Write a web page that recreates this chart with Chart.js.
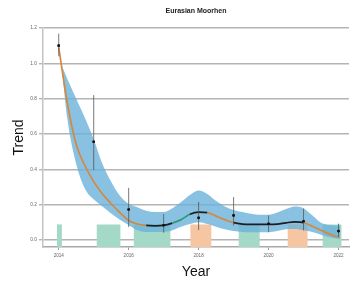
<!DOCTYPE html>
<html>
<head>
<meta charset="utf-8">
<script src="https://cdn.jsdelivr.net/npm/chart.js@4/dist/chart.umd.min.js"></script>
<style>
html,body{margin:0;padding:0;background:#fff;}
#wrap{width:353px;height:284px;position:relative;}
</style>
</head>
<body>
<div id="wrap"><canvas id="c" width="353" height="284"></canvas></div>
<script>
// ---- data ----
const chartTitle = 'Eurasian Moorhen';
const xTickYears = [2014, 2016, 2018, 2020, 2022];
const yTickValues = [0.0, 0.2, 0.4, 0.6, 0.8, 1.0, 1.2];

const pointYears = [2014, 2015, 2016, 2017, 2018, 2019, 2020, 2021, 2022];
const pointValues = [1.10, 0.556, 0.172, 0.083, 0.125, 0.139, 0.092, 0.106, 0.050];
const errLow  = [1.04, 0.395, 0.073, 0.041, 0.056, 0.082, 0.044, 0.054, 0.016];
const errHigh = [1.168, 0.82, 0.295, 0.146, 0.215, 0.243, 0.139, 0.177, 0.092];

const trendYears = [2014, 2014.25, 2014.5, 2014.75, 2015, 2015.25, 2015.5, 2015.75,
  2016, 2016.25, 2016.5, 2016.75, 2017, 2017.25, 2017.5, 2017.75,
  2018, 2018.25, 2018.5, 2018.75, 2019, 2019.25, 2019.5, 2019.75,
  2020, 2020.25, 2020.5, 2020.75, 2021, 2021.25, 2021.5, 2021.75, 2022];
const trendValues = [1.09, 0.77, 0.54, 0.42, 0.33, 0.26, 0.205, 0.155,
  0.11, 0.09, 0.082, 0.08, 0.082, 0.095, 0.115, 0.145,
  0.158, 0.155, 0.135, 0.115, 0.098, 0.09, 0.088, 0.088,
  0.088, 0.09, 0.097, 0.102, 0.098, 0.078, 0.055, 0.033, 0.015];

const bandYears = [2014.1, 2014.25, 2014.5, 2014.75, 2015, 2015.25, 2015.5, 2015.75,
  2016, 2016.25, 2016.5, 2016.75, 2017, 2017.25, 2017.5, 2017.75,
  2018, 2018.25, 2018.5, 2018.75, 2019, 2019.25, 2019.5, 2019.75,
  2020, 2020.25, 2020.5, 2020.75, 2021, 2021.25, 2021.5, 2021.75, 2022.05];
const bandUpper = [0.98, 0.91, 0.80, 0.69, 0.57, 0.43, 0.33, 0.25,
  0.205, 0.185, 0.165, 0.158, 0.158, 0.18, 0.215, 0.255,
  0.28, 0.26, 0.22, 0.19, 0.17, 0.158, 0.148, 0.142,
  0.142, 0.155, 0.175, 0.19, 0.18, 0.14, 0.098, 0.085, 0.08];
const bandLower = [0.95, 0.68, 0.43, 0.29, 0.23, 0.19, 0.15, 0.115,
  0.085, 0.055, 0.045, 0.045, 0.045, 0.055, 0.075, 0.09,
  0.10, 0.09, 0.075, 0.06, 0.05, 0.045, 0.044, 0.044,
  0.044, 0.05, 0.06, 0.062, 0.055, 0.045, 0.03, 0.015, 0.005];

// trend significance periods
const sigFrom = [2014, 2016.4, 2017.15, 2017.85, 2018.35, 2019.1, 2021.0];
const sigKind = ['down', 'flat', 'up', 'flat', 'down', 'flat', 'down'];

// coloured period bars
const barStart = [2013.95, 2015.08, 2016.14, 2017.76, 2019.14, 2020.54, 2021.54];
const barEnd   = [2014.09, 2015.77, 2017.20, 2018.37, 2019.75, 2021.12, 2022.09];
const barKind  = ['green', 'green', 'green', 'orange', 'green', 'orange', 'green'];
const barHeight = 0.088;

// ---- styles ----
const sigColor = {down: '#d4883e', flat: '#1e1e1e', up: '#2f9a78'};
const barColor = {green: '#a3d9c6', orange: '#f6c5a2'};
const bandColor = 'rgba(108,178,219,0.80)';

const datasets = [];
barStart.forEach((s, i) => {
  datasets.push({
    type: 'line',
    data: [{x: s, y: barHeight}, {x: barEnd[i], y: barHeight}],
    borderWidth: 0, pointRadius: 0, fill: 'start',
    backgroundColor: barColor[barKind[i]], borderColor: 'rgba(0,0,0,0)',
    order: 10
  });
});
datasets.push({
  type: 'line',
  data: bandYears.map((x, i) => ({x, y: bandUpper[i]})),
  borderWidth: 0, pointRadius: 0, fill: '+1',
  cubicInterpolationMode: 'monotone',
  backgroundColor: bandColor, borderColor: 'rgba(0,0,0,0)', order: 6
});
datasets.push({
  type: 'line',
  data: bandYears.map((x, i) => ({x, y: bandLower[i]})),
  borderWidth: 0, pointRadius: 0, fill: false,
  cubicInterpolationMode: 'monotone',
  borderColor: 'rgba(0,0,0,0)', order: 7
});
function kindAt(x) {
  let k = sigKind[0];
  for (let i = 0; i < sigFrom.length; i++) if (x >= sigFrom[i]) k = sigKind[i];
  return k;
}
datasets.push({
  type: 'line',
  data: trendYears.map((x, i) => ({x, y: trendValues[i]})),
  borderWidth: 1.7, pointRadius: 0, fill: false,
  cubicInterpolationMode: 'monotone',
  borderColor: sigColor.down,
  segment: {
    borderColor: ctx => sigColor[kindAt((ctx.p0.parsed.x + ctx.p1.parsed.x) / 2)]
  },
  order: 3
});
datasets.push({
  type: 'scatter',
  data: pointYears.map((x, i) => ({x, y: pointValues[i]})),
  pointRadius: 1.3, pointBackgroundColor: '#111', pointBorderWidth: 0,
  showLine: false, order: 1
});

const errorBars = {
  id: 'errorBars',
  afterDatasetsDraw(chart) {
    const {ctx, scales: {x, y}} = chart;
    ctx.save();
    ctx.strokeStyle = '#555';
    ctx.lineWidth = 0.8;
    pointYears.forEach((yr, i) => {
      const px = x.getPixelForValue(yr);
      ctx.beginPath();
      ctx.moveTo(px, y.getPixelForValue(errLow[i]));
      ctx.lineTo(px, y.getPixelForValue(errHigh[i]));
      ctx.stroke();
    });
    ctx.restore();
    const meta = chart.getDatasetMeta(chart.data.datasets.length - 1);
    meta.controller.draw();
  }
};

new Chart(document.getElementById('c'), {
  type: 'line',
  data: {datasets},
  plugins: [errorBars],
  options: {
    responsive: false,
    animation: false,
    layout: {padding: 0},
    plugins: {
      legend: {display: false},
      tooltip: {enabled: false},
      title: {
        display: true, text: chartTitle, fullSize: false,
        color: '#222',
        font: {family: 'Liberation Sans, Arial, sans-serif', size: 7, weight: 'bold', lineHeight: 1.2},
        padding: {top: 7, bottom: 12.6}
      }
    },
    scales: {
      x: {
        type: 'linear', min: 2013.55, max: 2022.3,
        afterFit: s => { s.height = 37; },
        afterBuildTicks: s => { s.ticks = xTickYears.map(v => ({value: v})); },
        grid: {drawOnChartArea: false, drawTicks: true, tickLength: 3, color: '#9a9a9a', lineWidth: 1},
        border: {display: true, color: '#a8a8a8', width: 1.5},
        ticks: {
          color: '#666', padding: 3, maxRotation: 0, autoSkip: false,
          font: {family: 'Liberation Sans, Arial, sans-serif', size: 4.6},
          callback: v => String(v)
        },
        title: {
          display: true, text: 'Year', color: '#111',
          font: {family: 'Liberation Sans, Arial, sans-serif', size: 14},
          padding: {top: 2, bottom: 3}
        }
      },
      y: {
        type: 'linear', min: -0.04, max: 1.2,
        afterFit: s => { s.width = 43; },
        afterBuildTicks: s => { s.ticks = yTickValues.map(v => ({value: v})); },
        grid: {drawOnChartArea: true, drawTicks: true, tickLength: 4, color: '#b4b4b4', lineWidth: 1.4},
        border: {display: true, color: '#c4c4c4', width: 1.5},
        ticks: {
          color: '#666', padding: 2,
          font: {family: 'Liberation Sans, Arial, sans-serif', size: 4.8},
          callback: v => Number(v).toFixed(1)
        },
        title: {
          display: true, text: 'Trend', color: '#111',
          font: {family: 'Liberation Sans, Arial, sans-serif', size: 14},
          padding: {top: 11, bottom: 2}
        }
      }
    }
  }
});
</script>
</body>
</html>
